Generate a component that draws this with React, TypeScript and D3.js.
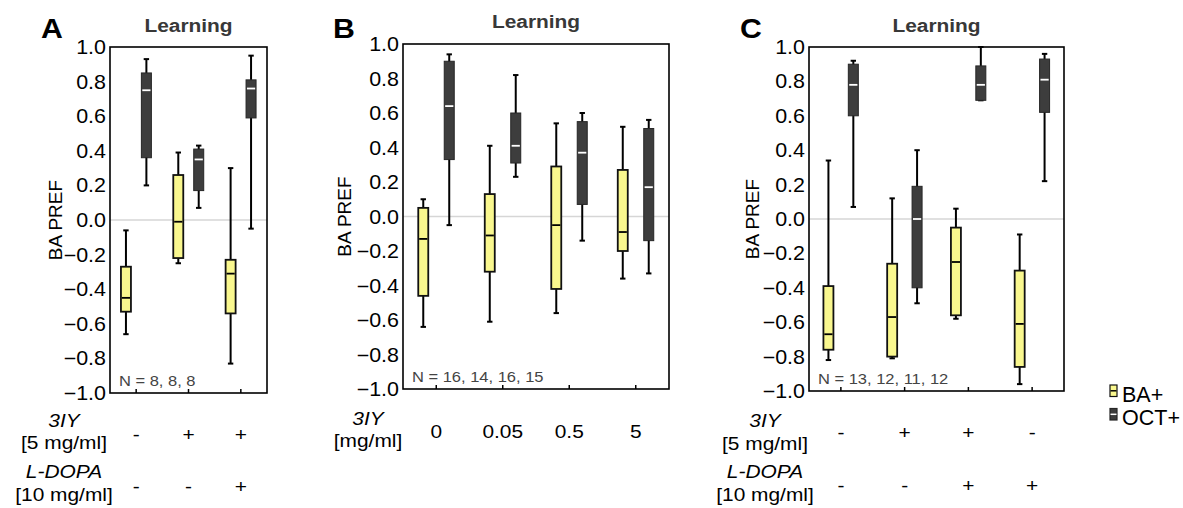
import * as d3 from 'd3';
import React, { useEffect, useRef } from 'react';

// box stats per group: [whisker low, q1, median, q3, whisker high]
const panelA_3IY = ['-', '+', '+'];
const panelA_LDOPA = ['-', '-', '+'];
const panelA_BA = [
  [-0.66, -0.53, -0.45, -0.27, -0.06],
  [-0.25, -0.22, -0.01, 0.26, 0.39],
  [-0.83, -0.54, -0.31, -0.23, 0.3],
];
const panelA_OCT = [
  [0.2, 0.36, 0.75, 0.85, 0.93],
  [0.07, 0.17, 0.35, 0.41, 0.43],
  [-0.05, 0.59, 0.76, 0.81, 0.95],
];
const panelA_N = [8, 8, 8];

const panelB_3IY = ['0', '0.05', '0.5', '5'];
const panelB_BA = [
  [-0.64, -0.46, -0.13, 0.05, 0.1],
  [-0.61, -0.32, -0.11, 0.13, 0.41],
  [-0.56, -0.42, -0.05, 0.29, 0.54],
  [-0.36, -0.2, -0.09, 0.27, 0.52],
];
const panelB_OCT = [
  [-0.05, 0.33, 0.64, 0.9, 0.94],
  [0.23, 0.31, 0.41, 0.6, 0.82],
  [-0.14, 0.07, 0.37, 0.55, 0.6],
  [-0.33, -0.14, 0.17, 0.51, 0.56],
];
const panelB_N = [16, 14, 16, 15];

const panelC_3IY = ['-', '+', '+', '-'];
const panelC_LDOPA = ['-', '-', '+', '+'];
const panelC_BA = [
  [-0.82, -0.76, -0.67, -0.39, 0.34],
  [-0.81, -0.8, -0.57, -0.26, 0.12],
  [-0.58, -0.56, -0.25, -0.05, 0.06],
  [-0.96, -0.86, -0.61, -0.3, -0.09],
];
const panelC_OCT = [
  [0.07, 0.6, 0.78, 0.9, 0.92],
  [-0.49, -0.4, 0.0, 0.19, 0.4],
  [0.69, 0.69, 0.78, 0.89, 1.0],
  [0.22, 0.62, 0.81, 0.93, 0.96],
];
const panelC_N = [13, 12, 11, 12];

const yTicks = [1.0, 0.8, 0.6, 0.4, 0.2, 0.0, -0.2, -0.4, -0.6, -0.8, -1.0];
const seriesNames = ['BA+', 'OCT+'];

const FONT = '"Liberation Sans", Arial, Helvetica, sans-serif';
const BA_FILL = '#f9f78e';
const OCT_FILL = '#3d3d3d';
const SX = 1.1; // text in the figure is slightly wide

const App = () => {
  const chartRef = useRef(null);

  useEffect(() => {
    const svg = d3.select(chartRef.current);
    svg.selectAll('*').remove();

    // text helper, stretched horizontally like the original
    const txt = (g, x, y, s, size, opts = {}) => {
      const t = g.append('text')
        .attr('transform', `translate(${x},${y}) scale(${SX},1)`)
        .attr('font-family', FONT)
        .attr('font-size', size)
        .attr('text-anchor', opts.anchor || 'start')
        .attr('fill', opts.fill || '#000')
        .text(s);
      if (opts.bold) t.attr('font-weight', 'bold');
      if (opts.italic) t.attr('font-style', 'italic');
      return t;
    };

    const drawPanel = (cfg) => {
      const g = svg.append('g');
      const groups = d3.range(cfg.ba.length);

      const x0 = d3.scaleBand().domain(groups).range([cfg.left, cfg.right]);
      const x1 = d3.scalePoint().domain([0, 1]).range([0, x0.bandwidth()]).padding(0.78);
      const y = d3.scaleLinear().domain([-1, 1]).range([cfg.bottom, cfg.top]);
      const boxW = 10;

      // zero line
      g.append('line')
        .attr('x1', cfg.left).attr('x2', cfg.right)
        .attr('y1', y(0)).attr('y2', y(0))
        .attr('stroke', '#d6d6d6').attr('stroke-width', 1.5);

      // boxes
      [cfg.ba, cfg.oct].forEach((series, si) => {
        series.forEach((d, i) => {
          const cx = x0(i) + x1(si);
          const [lo, q1, med, q3, hi] = d;
          const bg = g.append('g');
          bg.append('line')
            .attr('x1', cx).attr('x2', cx).attr('y1', y(hi)).attr('y2', y(lo))
            .attr('stroke', '#000').attr('stroke-width', 2);
          [lo, hi].forEach(v => {
            bg.append('line')
              .attr('x1', cx - 2.7).attr('x2', cx + 2.7).attr('y1', y(v)).attr('y2', y(v))
              .attr('stroke', '#000').attr('stroke-width', 2);
          });
          bg.append('rect')
            .attr('x', cx - boxW / 2).attr('y', y(q3))
            .attr('width', boxW).attr('height', y(q1) - y(q3))
            .attr('fill', si === 0 ? BA_FILL : OCT_FILL)
            .attr('stroke', si === 0 ? '#111' : '#262626')
            .attr('stroke-width', si === 0 ? 1.8 : 1);
          bg.append('line')
            .attr('x1', cx - boxW / 2 + 0.9).attr('x2', cx + boxW / 2 - 0.9)
            .attr('y1', y(med)).attr('y2', y(med))
            .attr('stroke', si === 0 ? '#000' : '#fff').attr('stroke-width', 1.8);
        });
      });

      // frame
      g.append('rect')
        .attr('x', cfg.left).attr('y', cfg.top)
        .attr('width', cfg.right - cfg.left).attr('height', cfg.bottom - cfg.top)
        .attr('fill', 'none').attr('stroke', '#000').attr('stroke-width', 1.6);

      // bottom inner ticks
      groups.forEach(i => {
        const cx = x0(i) + x0.bandwidth() / 2;
        g.append('line')
          .attr('x1', cx).attr('x2', cx).attr('y1', cfg.bottom).attr('y2', cfg.bottom - 4)
          .attr('stroke', '#000').attr('stroke-width', 1.5);
      });

      // y tick labels
      yTicks.forEach(v => {
        txt(g, cfg.left - 4, y(v) + 7, d3.format('.1f')(v), 19.5, { anchor: 'end' });
      });

      // y axis title
      g.append('text')
        .attr('transform', `translate(${cfg.yLabelX},${(cfg.top + cfg.bottom) / 2}) rotate(-90)`)
        .attr('font-family', FONT).attr('font-size', 19)
        .attr('text-anchor', 'middle')
        .text('BA PREF');

      // panel title and letter
      txt(g, (cfg.left + cfg.right) / 2, cfg.titleY, 'Learning', 19, { anchor: 'middle', bold: true, fill: '#383838' });
      txt(g, cfg.letterX, 38, cfg.letter, 27.5, { bold: true });

      // N text
      txt(g, cfg.left + 9, cfg.bottom - 7, 'N = ' + cfg.n.join(', '), 15, { fill: '#444' });

      // treatment rows
      cfg.rows.forEach(r => {
        txt(g, cfg.labelCx, r.nameY, r.name, 19, { anchor: 'middle', italic: true });
        txt(g, cfg.labelCx, r.unitY, r.unit, 19, { anchor: 'middle' });
        r.vals.forEach((s, i) => {
          txt(g, x0(i) + x0.bandwidth() / 2, r.valY, s, 19, { anchor: 'middle' });
        });
      });
    };

    drawPanel({
      letter: 'A', letterX: 41, titleY: 32,
      left: 110, right: 267, top: 47, bottom: 393,
      ba: panelA_BA, oct: panelA_OCT, n: panelA_N,
      yLabelX: 62, labelCx: 64,
      rows: [
        { name: '3IY', unit: '[5 mg/ml]', vals: panelA_3IY, nameY: 427, unitY: 449, valY: 441 },
        { name: 'L-DOPA', unit: '[10 mg/ml]', vals: panelA_LDOPA, nameY: 478, unitY: 501, valY: 493 },
      ],
    });
    drawPanel({
      letter: 'B', letterX: 333, titleY: 28,
      left: 403, right: 669, top: 44, bottom: 389,
      ba: panelB_BA, oct: panelB_OCT, n: panelB_N,
      yLabelX: 351, labelCx: 368,
      rows: [
        { name: '3IY', unit: '[mg/ml]', vals: panelB_3IY, nameY: 425, unitY: 447, valY: 438 },
      ],
    });
    drawPanel({
      letter: 'C', letterX: 740, titleY: 32,
      left: 809, right: 1064, top: 47, bottom: 391,
      ba: panelC_BA, oct: panelC_OCT, n: panelC_N,
      yLabelX: 759, labelCx: 765,
      rows: [
        { name: '3IY', unit: '[5 mg/ml]', vals: panelC_3IY, nameY: 427, unitY: 450, valY: 439 },
        { name: 'L-DOPA', unit: '[10 mg/ml]', vals: panelC_LDOPA, nameY: 478, unitY: 501, valY: 492 },
      ],
    });

    // legend
    const leg = svg.append('g');
    seriesNames.forEach((name, i) => {
      const yy = 385 + i * 23.5;
      leg.append('rect')
        .attr('x', 1110).attr('y', yy).attr('width', 7).attr('height', 11.5)
        .attr('fill', i === 0 ? BA_FILL : OCT_FILL)
        .attr('stroke', i === 0 ? '#111' : '#262626').attr('stroke-width', 1.2);
      leg.append('line')
        .attr('x1', 1110.5).attr('x2', 1116.5).attr('y1', yy + 5.8).attr('y2', yy + 5.8)
        .attr('stroke', i === 0 ? '#000' : '#fff').attr('stroke-width', 1.5);
      leg.append('text')
        .attr('x', 1122).attr('y', yy + 16.5)
        .attr('font-family', FONT).attr('font-size', 21.5)
        .text(name);
    });
  }, []);

  return (
    <svg ref={chartRef} width={1183} height={508}
      style={{ position: 'absolute', left: 0, top: 0, background: '#fff' }} />
  );
};

export default App;
